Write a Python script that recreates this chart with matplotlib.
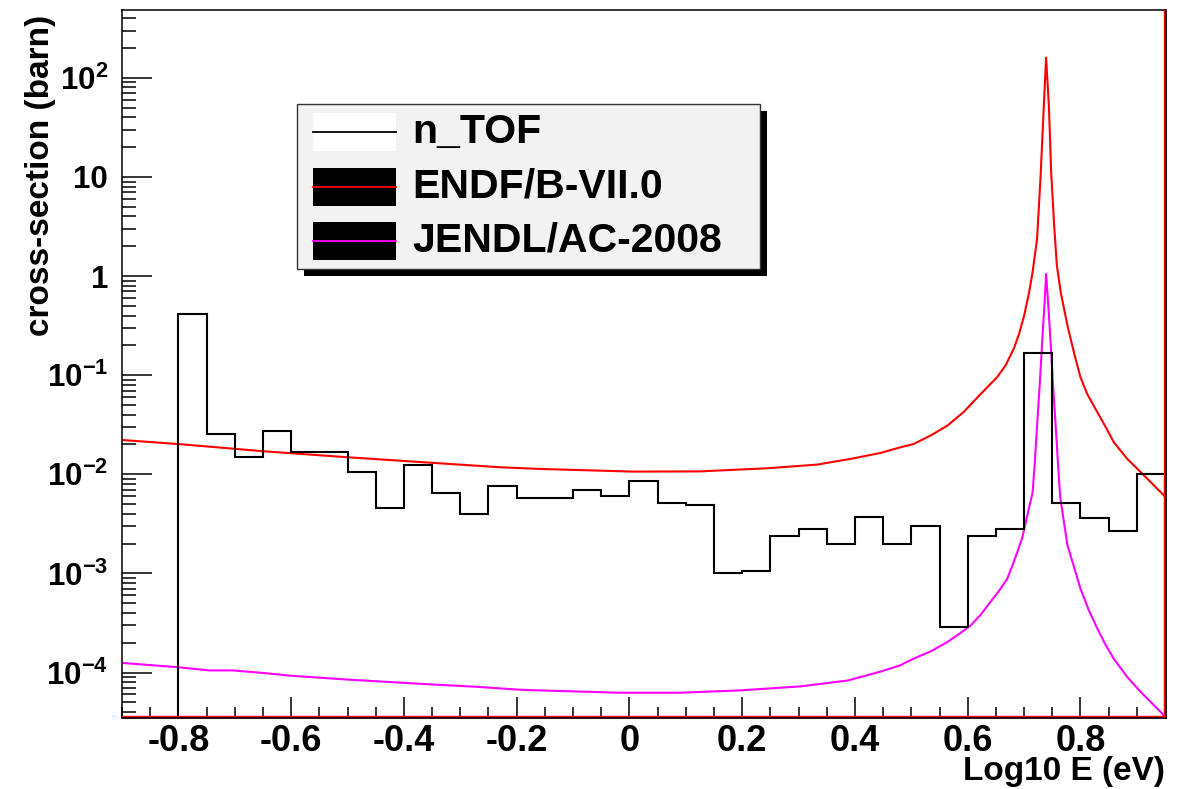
import numpy as np
import matplotlib
matplotlib.use("Agg")
import matplotlib.pyplot as plt
from matplotlib.patches import Rectangle
from matplotlib.ticker import MultipleLocator, LogLocator, FixedLocator, FuncFormatter, NullFormatter

plt.rcParams['font.family'] = 'Liberation Sans'
plt.rcParams['font.weight'] = 'bold'
plt.rcParams['mathtext.fontset'] = 'custom'
plt.rcParams['mathtext.rm'] = 'Liberation Sans:bold'
plt.rcParams['mathtext.it'] = 'Liberation Sans:bold'
plt.rcParams['mathtext.bf'] = 'Liberation Sans:bold'
plt.rcParams['axes.unicode_minus'] = False

# n_TOF histogram, bins of 0.05 in log10(E)
bin_edges = np.round(np.linspace(-0.8, 0.95, 36), 2)
ntof = [0.417, 0.0255, 0.0149, 0.0272, 0.0168, 0.0168, 0.0106, 0.00462, 0.0125,
        0.00645, 0.00402, 0.00764, 0.00578, 0.0058, 0.00701, 0.0061, 0.00865,
        0.00519, 0.00492, 0.00101, 0.00106, 0.00238, 0.00282, 0.00199, 0.00375,
        0.00196, 0.00298, 0.000291, 0.00239, 0.00279, 0.1675, 0.00511, 0.0036,
        0.00269, 0.00997]

# ENDF/B-VII.0 evaluation
endf_x = [-0.9, -0.8, -0.65, -0.5, -0.23, -0.159, 0.006, 0.125, 0.244, 0.333, 0.392,
          0.445, 0.481, 0.504, 0.534, 0.564, 0.593, 0.623, 0.652, 0.667, 0.682, 0.691,
          0.70, 0.709, 0.715, 0.723, 0.729, 0.735, 0.739, 0.744, 0.748, 0.753, 0.758,
          0.765, 0.777, 0.789, 0.80, 0.812, 0.83, 0.845, 0.859, 0.883, 0.907, 0.951]
endf_y = [0.0222, 0.0202, 0.0171, 0.01486, 0.01178, 0.01133, 0.01065, 0.0107, 0.0115,
          0.01253, 0.0143, 0.0164, 0.01875, 0.0202, 0.0246, 0.031, 0.0426, 0.0646,
          0.0953, 0.125, 0.1867, 0.26, 0.398, 0.69, 1.09, 2.36, 9.5, 52, 160, 52, 11.2,
          3.5, 1.3, 0.685, 0.315, 0.164, 0.0953, 0.0646, 0.0423, 0.0298, 0.0211,
          0.0143, 0.0105, 0.00588]

# JENDL/AC-2008 evaluation
jendl_x = [-0.9, -0.8, -0.745, -0.704, -0.65, -0.603, -0.496, -0.372, -0.265, -0.194,
           -0.159, -0.017, 0.09, 0.196, 0.303, 0.387, 0.445, 0.48, 0.504, 0.534, 0.564,
           0.587, 0.605, 0.623, 0.64, 0.655, 0.67, 0.679, 0.688, 0.697, 0.703, 0.709,
           0.715, 0.719, 0.723, 0.728, 0.732, 0.736, 0.739, 0.743, 0.747, 0.751, 0.756,
           0.760, 0.764, 0.768, 0.777, 0.786, 0.80, 0.815, 0.83, 0.845, 0.859, 0.883,
           0.907, 0.945, 0.955]
jendl_y = [1.25e-4, 1.13e-4, 1.05e-4, 1.05e-4, 9.9e-5, 9.3e-5, 8.46e-5, 7.7e-5, 7.14e-5,
           6.7e-5, 6.6e-5, 6.25e-5, 6.25e-5, 6.6e-5, 7.24e-5, 8.3e-5, 1.02e-4, 1.18e-4,
           1.38e-4, 1.63e-4, 2.03e-4, 2.5e-4, 2.98e-4, 3.83e-4, 5.13e-4, 6.6e-4, 8.8e-4,
           1.19e-3, 1.64e-3, 2.32e-3, 3.3e-3, 4.66e-3, 6.5e-3, 0.0132, 0.031, 0.0848,
           0.215, 0.5, 1.05, 0.5, 0.215, 0.0848, 0.031, 0.0132, 5.9e-3, 4.15e-3, 1.91e-3,
           1.3e-3, 7.0e-4, 4.23e-4, 2.77e-4, 1.88e-4, 1.38e-4, 9.0e-5, 6.35e-5, 3.85e-5,
           3.2e-5]

y_decades = [1e-4, 1e-3, 1e-2, 1e-1, 1, 10, 100]

labels = ['n_TOF', 'ENDF/B-VII.0', 'JENDL/AC-2008']
line_colors = ['black', '#ff0000', '#ff00ff']
box_colors = ['white', 'black', 'black']

fig = plt.figure(figsize=(11.87, 7.89), dpi=100)
ax = fig.add_axes([0.1028, 0.0913, 0.8787, 0.8960])

ax.stairs(ntof, bin_edges, baseline=1e-7, color='black', lw=1.5, zorder=3)
ax.plot(endf_x, endf_y, color=line_colors[1], lw=1.5, zorder=2)
ax.plot(jendl_x, jendl_y, color=line_colors[2], lw=1.5, zorder=2)

ax.set_yscale('log')
ax.set_xlim(-0.9, 0.95)
ax.set_ylim(3.56e-5, 484)

ax.xaxis.set_major_locator(MultipleLocator(0.2))
ax.xaxis.set_minor_locator(MultipleLocator(0.05))


def xfmt(v, pos):
    v = round(v, 2)
    if abs(v) < 1e-9:
        return '0'
    return '%g' % v


def yfmt(v, pos):
    e = int(round(np.log10(v)))
    if e == 0:
        return '1'
    if e == 1:
        return '10'
    return '$10^{%d}$' % e


ax.xaxis.set_major_formatter(FuncFormatter(xfmt))
ax.yaxis.set_major_locator(FixedLocator(y_decades))
ax.yaxis.set_minor_locator(LogLocator(base=10, subs=np.arange(2, 10), numticks=20))
ax.yaxis.set_major_formatter(FuncFormatter(yfmt))
ax.yaxis.set_minor_formatter(NullFormatter())

ax.tick_params(axis='x', which='major', direction='in', length=14.4, width=1.1,
               pad=5, labelsize=26, top=False)
ax.tick_params(axis='x', which='minor', direction='in', length=7.2, width=1.1, top=False)
ax.tick_params(axis='y', which='major', direction='in', length=21.6, width=1.1,
               pad=10, labelsize=22.5, right=False)
ax.tick_params(axis='y', which='minor', direction='in', length=10, width=1.1, right=False)

for s in ['left', 'top']:
    ax.spines[s].set_linewidth(1.1)
for s in ['bottom', 'right']:
    ax.spines[s].set_linewidth(2.0)
ax.plot([0, 1], [0.002, 0.002], transform=ax.transAxes, color='red', lw=1, clip_on=False, zorder=10)
ax.plot([0.999, 0.999], [0, 1], transform=ax.transAxes, color='red', lw=1, clip_on=False, zorder=10)

ax.text(-0.0786, 0.993, 'cross-section (barn)', rotation=90, ha='center', va='top',
        transform=ax.transAxes, fontsize=24)
fig.text(0.9815, 0.002, 'Log10 E (eV)', ha='right', va='bottom', fontsize=24)

# legend box drawn by hand (ROOT style with solid shadow)
lx0, lx1, ly0, ly1 = 0.1678, 0.6117, 0.6337, 0.8670
dx, dy = 0.0067, 0.0099
ax.add_patch(Rectangle((lx0 + dx, ly0 - dy), lx1 - lx0, ly1 - ly0, transform=ax.transAxes,
                       facecolor='black', edgecolor='none', zorder=5, clip_on=False))
ax.add_patch(Rectangle((lx0, ly0), lx1 - lx0, ly1 - ly0, transform=ax.transAxes,
                       facecolor='#f2f2f2', edgecolor='#333333', lw=1, zorder=6, clip_on=False))
row_y = [0.8279, 0.7501, 0.6733]
hx0, hx1, hh = 0.1831, 0.2627, 0.054
for lab, lc, bc, yc in zip(labels, line_colors, box_colors, row_y):
    ax.add_patch(Rectangle((hx0, yc - hh / 2), hx1 - hx0, hh, transform=ax.transAxes,
                           facecolor=bc, edgecolor='none', zorder=7))
    ax.plot([hx0, hx1], [yc, yc], transform=ax.transAxes, color=lc, lw=1.3, zorder=8)
    ax.text(0.278, yc, lab, transform=ax.transAxes, ha='left', va='center',
            fontsize=29.5, zorder=9)

fig.savefig('out.png', dpi=100)
